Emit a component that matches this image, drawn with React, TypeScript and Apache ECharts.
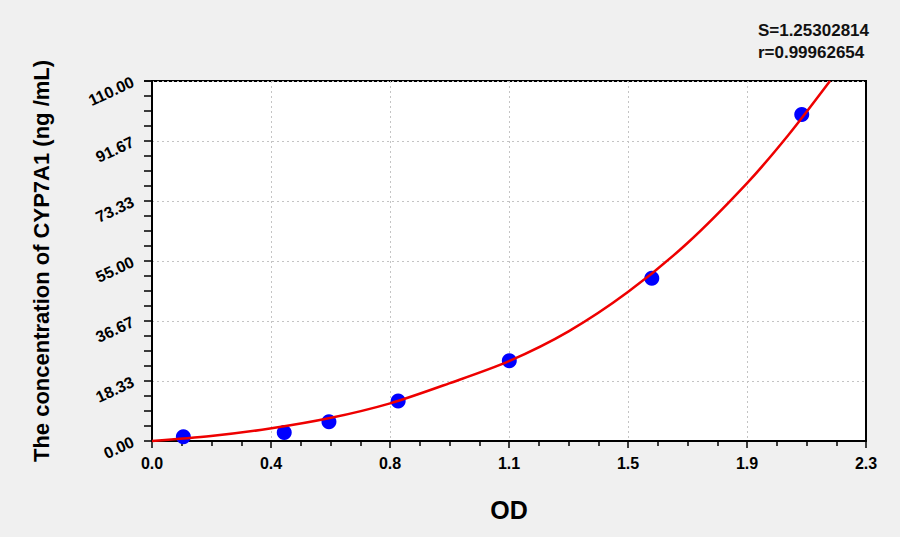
import React, { useEffect, useRef } from 'react';
import * as echarts from 'echarts';

// 标准点 (OD, 浓度)
const odValues = [0.101, 0.426, 0.57, 0.793, 1.151, 1.61, 2.093];
const concValues = [1.3, 2.6, 5.9, 12.2, 24.5, 49.7, 99.8];

// 拟合曲线
const curveOd = [0, 0.19, 0.38, 0.573, 0.767, 0.957, 1.15, 1.342, 1.533, 1.725, 1.917, 2.05, 2.184];
const curveConc = [0, 1.5, 3.8, 7.0, 11.5, 17.6, 24.4, 33.5, 45.5, 60.5, 78.8, 93.5, 110];

const xTickLabels = ['0.0', '0.4', '0.8', '1.1', '1.5', '1.9', '2.3'];
const yTickLabels = ['0.00', '18.33', '36.67', '55.00', '73.33', '91.67', '110.00'];

const statLines = ['S=1.25302814', 'r=0.99962654'];

const FONT = 'Liberation Sans, Arial, sans-serif';

const App: React.FC = () => {
  const chartRef = useRef<HTMLDivElement>(null);

  useEffect(() => {
    document.body.style.margin = '0';
    if (!chartRef.current) return;
    const chart = echarts.init(chartRef.current, undefined, { renderer: 'svg' });

    const xMax = 2.3;
    const yMax = 110;
    const xStep = xMax / 6;
    const yStep = yMax / 6;

    const option = {
      animation: false,
      backgroundColor: '#f0f0f0',
      textStyle: { fontFamily: FONT },
      graphic: [
        {
          type: 'text',
          right: 31,
          top: 19,
          style: {
            text: statLines.join('\n'),
            font: 'bold 17px ' + FONT,
            fill: '#111',
            align: 'right',
            lineHeight: 22
          }
        }
      ],
      grid: {
        left: 152,
        right: 34,
        top: 81,
        bottom: 96,
        show: true,
        backgroundColor: '#ffffff',
        borderColor: '#000000',
        borderWidth: 2
      },
      xAxis: {
        type: 'value',
        min: 0,
        max: xMax,
        interval: xStep,
        name: 'OD',
        nameLocation: 'middle',
        nameGap: 56,
        nameTextStyle: { fontSize: 25, fontWeight: 'bold', color: '#000', fontFamily: FONT },
        axisLine: { show: true, lineStyle: { color: '#000', width: 2 } },
        axisTick: { show: true, inside: false, length: 7, lineStyle: { color: '#000', width: 1.5 } },
        minorTick: { show: true, splitNumber: 4, length: 5, lineStyle: { color: '#000', width: 1.5 } },
        axisLabel: {
          color: '#000',
          fontSize: 16,
          fontWeight: 'bold',
          margin: 14,
          formatter: (v: number) => xTickLabels[Math.round(v / xStep)] ?? ''
        },
        splitLine: {
          show: true,
          showMinLine: false,
          showMaxLine: false,
          lineStyle: { color: '#c4c4c4', type: [2, 3], width: 1 }
        }
      },
      yAxis: {
        type: 'value',
        min: 0,
        max: yMax,
        interval: yStep,
        name: 'The concentration of CYP7A1 (ng /mL)',
        nameLocation: 'middle',
        nameGap: 100,
        nameTextStyle: { fontSize: 22, fontWeight: 'bold', color: '#000', fontFamily: FONT },
        axisLine: { show: true, lineStyle: { color: '#000', width: 2 } },
        axisTick: { show: true, inside: false, length: 8, lineStyle: { color: '#000', width: 1.5 } },
        minorTick: { show: true, splitNumber: 4, length: 8, lineStyle: { color: '#000', width: 1.5 } },
        axisLabel: {
          color: '#000',
          fontSize: 16,
          fontWeight: 'bold',
          rotate: 25,
          margin: 19,
          formatter: (v: number) => yTickLabels[Math.round(v / yStep)] ?? ''
        },
        splitLine: {
          show: true,
          showMinLine: false,
          showMaxLine: false,
          lineStyle: { color: '#c4c4c4', type: [2, 3], width: 1 }
        }
      },
      series: [
        {
          type: 'scatter',
          data: odValues.map((x, i) => [x, concValues[i]]),
          symbolSize: 15,
          itemStyle: { color: '#0000ff', opacity: 1 },
          z: 2
        },
        {
          type: 'line',
          data: curveOd.map((x, i) => [x, curveConc[i]]),
          smooth: 0.3,
          showSymbol: false,
          clip: false,
          lineStyle: { color: '#ee0000', width: 2.5 },
          z: 3
        }
      ]
    };

    chart.setOption(option);
    return () => {
      chart.dispose();
    };
  }, []);

  return <div ref={chartRef} style={{ width: 900, height: 537 }} />;
};

export default App;
